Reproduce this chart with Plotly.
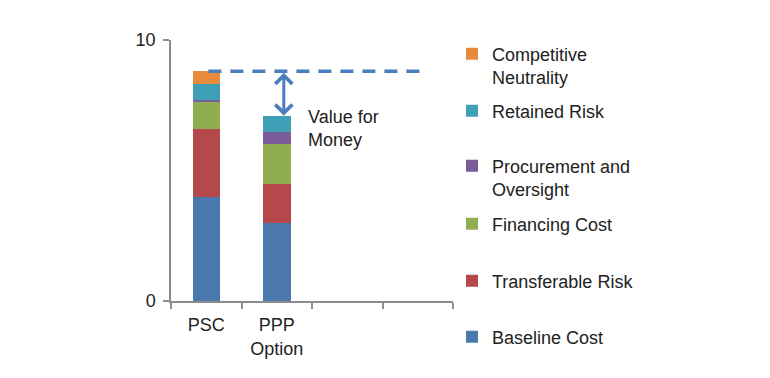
import plotly.graph_objects as go

categories = ["PSC", "PPP<br>Option"]
axis_categories = ["PSC", "PPP<br>Option", " ", "  "]

series_names = ["Baseline Cost", "Transferable Risk", "Financing Cost",
                "Procurement and<br>Oversight", "Retained Risk", "Competitive<br>Neutrality"]
baseline_cost = [4.0, 3.0]
transferable_risk = [2.6, 1.5]
financing_cost = [1.02, 1.5]
procurement_oversight = [0.1, 0.48]
retained_risk = [0.58, 0.62]
competitive_neutrality = [0.5, 0.0]
series_values = [baseline_cost, transferable_risk, financing_cost,
                 procurement_oversight, retained_risk, competitive_neutrality]
colors = ["#4a78ad", "#b5484a", "#90ad52", "#7b5d9c", "#3f9fb6", "#e68a3c"]

psc_total = sum(v[0] for v in series_values)
ppp_total = sum(v[1] for v in series_values)

FONT = "Liberation Sans, Arial, sans-serif"
W, H = 762, 370  # page body has an 8px margin

# legend box tops in px (container coordinates)
legend_tops_px = [310.5, 254.5, 197.5, 139.5, 84.5, 27.5]
legend_left_px = 444

fig = go.Figure()
layout_legends = {}
for i, (name, vals, col) in enumerate(zip(series_names, series_values, colors)):
    lg = "legend" if i == 0 else f"legend{i+1}"
    fig.add_trace(go.Bar(x=categories, y=vals, name=name, marker_color=col,
                         marker_line_width=0, width=0.39, legend=lg))
    layout_legends[lg] = dict(
        xref="container", yref="container",
        x=legend_left_px / W, xanchor="left",
        y=1 - legend_tops_px[i] / H, yanchor="top",
        bgcolor="rgba(0,0,0,0)", font=dict(family=FONT, size=18, color="#222"),
        valign="top", itemwidth=30, visible=True,
    )

fig.update_layout(
    barmode="stack",
    showlegend=True,
    width=W, height=H,
    margin=dict(l=163, r=317, t=32, b=77, autoexpand=False),
    paper_bgcolor="white", plot_bgcolor="white",
    font=dict(family=FONT, size=18, color="#222"),
    **layout_legends,
)

fig.update_xaxes(
    type="category", categoryorder="array", categoryarray=axis_categories,
    range=[-0.5, 3.5], showline=True, linecolor="#8c8c8c", linewidth=1.5,
    ticks="outside", tickson="boundaries", ticklen=6, tickcolor="#8c8c8c",
    tickwidth=1.5, showgrid=False, zeroline=False, ticklabelstandoff=7,
    tickfont=dict(family=FONT, size=18, color="#222"),
)
fig.update_yaxes(
    range=[0, 10], tickvals=[0, 10], showline=True, linecolor="#8c8c8c",
    linewidth=1.5, ticks="outside", ticklen=6, tickcolor="#8c8c8c", tickwidth=1.5,
    showgrid=False, zeroline=False, ticklabelstandoff=4,
    tickfont=dict(family=FONT, size=18, color="#222"),
)

# dashed reference line at PSC total
fig.add_shape(type="line", xref="x", yref="y", x0=0.03, x1=3.06,
              y0=psc_total, y1=psc_total,
              line=dict(color="#4a7ebf", width=3.5, dash="13px,9px"))

# double-headed arrow between PSC total and PPP total
fig.add_annotation(x=1.1, y=ppp_total, ax=1.1, ay=psc_total,
                   xref="x", yref="y", axref="x", ayref="y",
                   text="", showarrow=True, arrowhead=4, startarrowhead=4,
                   arrowside="end+start", arrowwidth=3, arrowsize=1.1,
                   startarrowsize=1.1, arrowcolor="#4a7ebf")

fig.add_annotation(x=1.42, y=(ppp_total + 6.1) / 2, xref="x", yref="y",
                   text="Value for<br>Money", showarrow=False,
                   xanchor="left", yanchor="middle", align="left",
                   font=dict(family=FONT, size=18, color="#222"))

fig.write_html("out.html")
